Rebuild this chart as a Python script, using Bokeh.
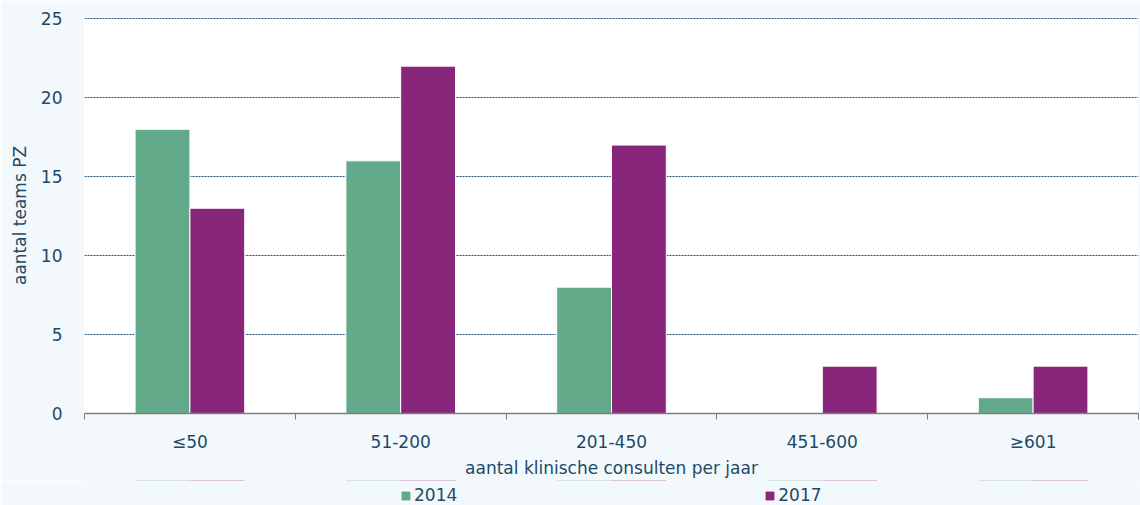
from bokeh.plotting import figure
from bokeh.layouts import column
from bokeh.models import Range1d, FixedTicker, Legend, LegendItem, ColumnDataSource
from bokeh.embed import file_html
from bokeh.resources import INLINE

categories = ["≤50", "51-200", "201-450", "451-600", "≥601"]
series_names = ["2014", "2017"]
values_2014 = [18, 16, 8, 0, 1]
values_2017 = [13, 22, 17, 3, 3]
y_ticks = [0, 5, 10, 15, 20, 25]

FONT = "DejaVu Sans"
TXT = "#1F4A66"
GREEN = "#62A98A"
PURPLE = "#88267C"
BG = "#F2F8FC"

n = len(categories)
centers = [i + 0.5 for i in range(n)]
bw = 0.26

p = figure(width=1140, height=480, output_backend="svg", toolbar_location=None,
           x_range=Range1d(0, n), y_range=Range1d(0, 25.08),
           min_border_left=84, min_border_right=2, min_border_top=17, min_border_bottom=67)
p.border_fill_color = BG
p.background_fill_color = "white"
p.outline_line_color = None

src14 = ColumnDataSource(dict(x=[c - bw / 2 for c in centers], top=values_2014))
src17 = ColumnDataSource(dict(x=[c + bw / 2 for c in centers], top=values_2017))
p.vbar(x="x", top="top", width=bw, source=src14, fill_color=GREEN, line_color="white", line_width=1)
p.vbar(x="x", top="top", width=bw, source=src17, fill_color=PURPLE, line_color="white", line_width=1)

# x axis
xa = p.xaxis[0]
xa.ticker = FixedTicker(ticks=centers, minor_ticks=list(range(n + 1)))
xa.major_label_overrides = {c: lab for c, lab in zip(centers, categories)}
xa.major_tick_line_color = None
xa.major_tick_out = 0
xa.major_tick_in = 0
xa.minor_tick_line_color = "#7F7F7F"
xa.minor_tick_out = 6
xa.minor_tick_in = 0
xa.axis_line_color = "#7F7F7F"
xa.axis_line_width = 1.5
xa.major_label_text_font = FONT
xa.major_label_text_font_size = "17px"
xa.major_label_text_color = TXT
xa.major_label_standoff = 12
xa.axis_label = "aantal klinische consulten per jaar"
xa.axis_label_text_font = FONT
xa.axis_label_text_font_size = "17px"
xa.axis_label_text_font_style = "normal"
xa.axis_label_text_color = TXT
xa.axis_label_standoff = 3

# y axis
ya = p.yaxis[0]
ya.ticker = FixedTicker(ticks=y_ticks)
ya.axis_line_color = None
ya.major_tick_line_color = None
ya.major_tick_out = 0
ya.major_tick_in = 0
ya.minor_tick_line_color = None
ya.major_label_text_font = FONT
ya.major_label_text_font_size = "17px"
ya.major_label_text_color = TXT
ya.major_label_standoff = 22
ya.axis_label = "aantal teams PZ"
ya.axis_label_text_font = FONT
ya.axis_label_text_font_size = "17px"
ya.axis_label_text_font_style = "normal"
ya.axis_label_text_color = TXT
ya.axis_label_standoff = 8

p.xgrid.grid_line_color = None
p.ygrid.ticker = FixedTicker(ticks=y_ticks[1:])
p.ygrid.grid_line_color = "#1F4E79"
p.ygrid.grid_line_dash = "2 1"
p.ygrid.grid_line_width = 1

# legend strip (legend proxies: zero-height bars from the same data, outside its y-range)
lg = figure(width=1140, height=25, output_backend="svg", toolbar_location=None,
            x_range=Range1d(0, n), y_range=Range1d(-2, -1),
            x_axis_location=None, y_axis_location=None,
            min_border_left=84, min_border_right=2, min_border_top=0, min_border_bottom=0)
lg.border_fill_color = BG
lg.background_fill_color = BG
lg.outline_line_color = None
lg.grid.visible = False
d14 = lg.vbar(x="x", top="top", bottom="top", width=bw, source=src14, fill_color=GREEN, line_color=None)
d17 = lg.vbar(x="x", top="top", bottom="top", width=bw, source=src17, fill_color=PURPLE, line_color=None)

legend = Legend(items=[LegendItem(label=series_names[0], renderers=[d14]),
                       LegendItem(label=series_names[1], renderers=[d17])],
                orientation="horizontal", location=(316, 0),
                spacing=307, padding=0, margin=0,
                glyph_width=11, glyph_height=11, label_standoff=3,
                label_text_font=FONT, label_text_font_size="17px", label_text_color=TXT,
                background_fill_alpha=0, border_line_color=None)
lg.add_layout(legend, "center")

layout = column(p, lg, spacing=0)
open("out.html", "w").write(file_html(layout, INLINE))
